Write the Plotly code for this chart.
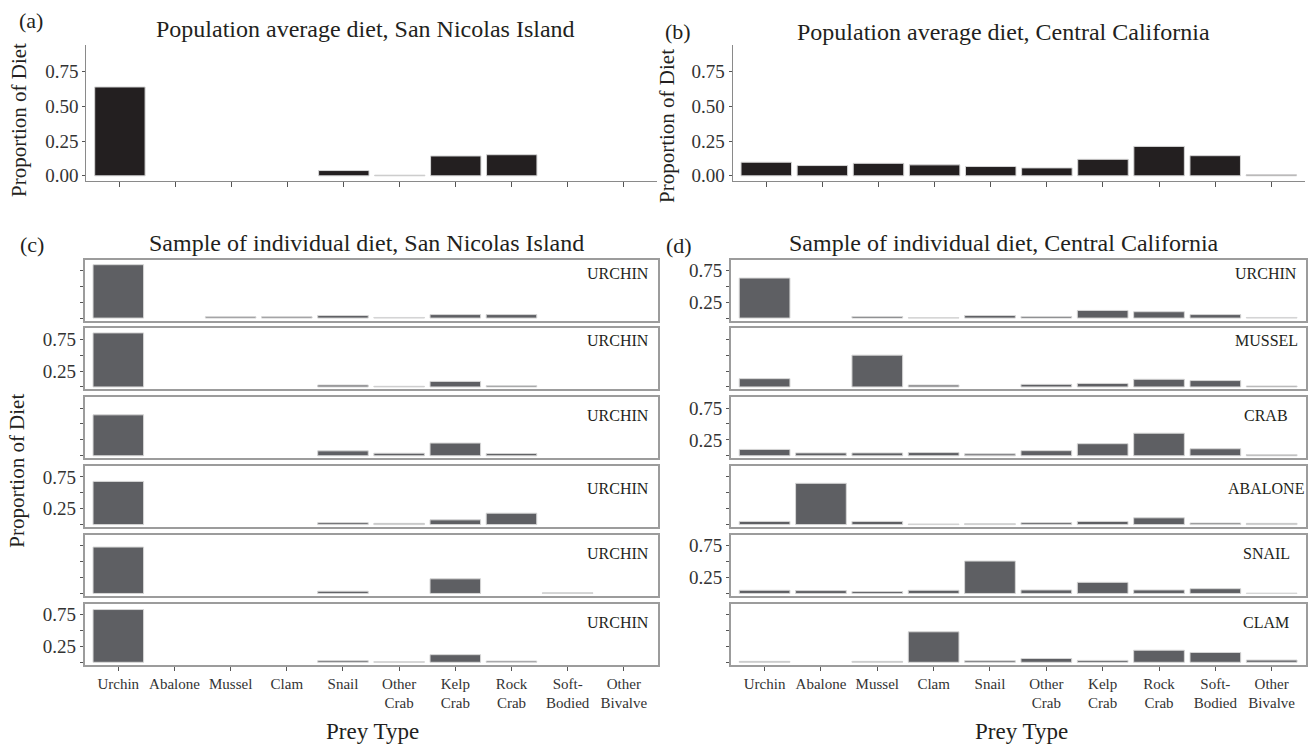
import plotly.graph_objects as go

# ---------------- data ----------------
categories = ["Urchin", "Abalone", "Mussel", "Clam", "Snail", "Other Crab",
              "Kelp Crab", "Rock Crab", "Soft-Bodied", "Other Bivalve"]
tick_labels = ["Urchin", "Abalone", "Mussel", "Clam", "Snail", "Other<br>Crab",
               "Kelp<br>Crab", "Rock<br>Crab", "Soft-<br>Bodied", "Other<br>Bivalve"]

y_tick_values = [0, 0.25, 0.5, 0.75]
y_tick_text_top = ["0.00", "0.25", "0.50", "0.75"]
y_tick_text_facet = ["", "0.25", "", "0.75"]

sni_population = [0.64, None, None, None, 0.038, 0.005, 0.143, 0.152, None, None]
cc_population = [0.098, 0.074, 0.090, 0.079, 0.067, 0.057, 0.119, 0.212, 0.145, 0.007]

sni_individual_labels = ["URCHIN", "URCHIN", "URCHIN", "URCHIN", "URCHIN", "URCHIN"]
sni_individual_1 = [0.84, None, 0.02, 0.02, 0.04, 0.01, 0.055, 0.055, None, None]
sni_individual_2 = [0.85, None, None, None, 0.03, 0.01, 0.087, 0.02, None, None]
sni_individual_3 = [0.644, None, None, None, 0.077, 0.04, 0.20, 0.035, None, None]
sni_individual_4 = [0.68, None, None, None, 0.03, 0.02, 0.075, 0.18, None, None]
sni_individual_5 = [0.73, None, None, None, 0.035, None, 0.23, None, 0.01, None]
sni_individual_6 = [0.83, None, None, None, 0.025, 0.01, 0.12, 0.02, None, None]

cc_individual_labels = ["URCHIN", "MUSSEL", "CRAB", "ABALONE", "SNAIL", "CLAM"]
cc_individual_1 = [0.63, None, 0.025, 0.005, 0.04, 0.025, 0.12, 0.10, 0.055, 0.01]
cc_individual_2 = [0.13, None, 0.50, 0.03, None, 0.04, 0.055, 0.12, 0.10, 0.015]
cc_individual_3 = [0.10, 0.045, 0.045, 0.05, 0.03, 0.08, 0.19, 0.355, 0.11, 0.02]
cc_individual_4 = [0.05, 0.65, 0.05, 0.01, 0.015, 0.03, 0.05, 0.107, 0.025, 0.02]
cc_individual_5 = [0.05, 0.045, 0.03, 0.05, 0.51, 0.055, 0.175, 0.055, 0.075, 0.005]
cc_individual_6 = [0.015, None, 0.015, 0.48, 0.025, 0.06, 0.03, 0.19, 0.155, 0.035]

sni_individuals = [sni_individual_1, sni_individual_2, sni_individual_3,
                   sni_individual_4, sni_individual_5, sni_individual_6]
cc_individuals = [cc_individual_1, cc_individual_2, cc_individual_3,
                  cc_individual_4, cc_individual_5, cc_individual_6]

# ---------------- layout helpers ----------------
W, H = 1308, 751
FONT = "Liberation Serif"
TXT = "#231f20"
TICKTXT = "#333333"


def fx(p):
    return p / W


def fy(p):
    return 1 - p / H


LEFT_TOP_X = (86.3, 657.3)
RIGHT_TOP_X = (732.6, 1305.0)
LEFT_FACET_X = (84.6, 657.5)
RIGHT_FACET_X = (730.8, 1305.5)
TOP_Y = (45.0, 182.0)
FACET_TOP0, FACET_STEP, FACET_H = 261.7, 69.4, 61.5
STRIP_Y = [0.765, 0.805, 0.695, 0.63, 0.69, 0.70]

fig = go.Figure()
layout = dict(
    width=W, height=H,
    margin=dict(l=0, r=0, t=0, b=0),
    paper_bgcolor="white", plot_bgcolor="white",
    showlegend=False,
    font=dict(family=FONT, color=TXT),
)
annotations = []


def ax_name(k):
    return ("x", "y") if k == 1 else (f"x{k}", f"y{k}")


def add_panel(k, values, xdom, ydom, color, top_panel, show_xlabels, ylabels):
    xn, yn = ax_name(k)
    fig.add_trace(go.Bar(
        x=categories, y=values, width=0.9, xaxis=xn, yaxis=yn,
        marker=dict(color=color, line=dict(color="#d6d6d6", width=1)),
        hoverinfo="skip",
    ))
    xkey = "xaxis" if k == 1 else f"xaxis{k}"
    ykey = "yaxis" if k == 1 else f"yaxis{k}"
    xa = dict(
        type="category", categoryorder="array", categoryarray=categories,
        range=[-0.6, 9.6], domain=[fx(xdom[0]), fx(xdom[1])], anchor=yn,
        showgrid=False, zeroline=False,
        tickvals=categories, ticktext=tick_labels,
        showticklabels=show_xlabels,
        tickfont=dict(family=FONT, size=15, color=TICKTXT),
    )
    ya = dict(
        domain=[fy(ydom[1]), fy(ydom[0])], anchor=xn,
        showgrid=False, zeroline=False,
        tickvals=y_tick_values, ticktext=ylabels,
        ticks="outside", ticklen=3, tickwidth=1, tickcolor="#555555",
        tickfont=dict(family=FONT, size=19, color=TICKTXT),
    )
    if top_panel:
        xa.update(showline=True, linecolor="#8a8a8a", linewidth=1.2,
                  ticks="outside", ticklen=5, tickwidth=1, tickcolor="#555555")
        ya.update(showline=True, linecolor="#8a8a8a", linewidth=1.2,
                  range=[-0.034, 0.945])
    else:
        xa.update(showline=True, mirror=True, linecolor="#9c9c9c", linewidth=1.6,
                  ticks="outside" if show_xlabels else "", ticklen=4,
                  tickwidth=1, tickcolor="#555555")
        ya.update(showline=True, mirror=True, linecolor="#9c9c9c", linewidth=1.6,
                  range=[-0.04, 0.92])
    layout[xkey] = xa
    layout[ykey] = ya


# Panels (a) and (b)
add_panel(1, sni_population, LEFT_TOP_X, TOP_Y, "#231f20", True, False, y_tick_text_top)
add_panel(2, cc_population, RIGHT_TOP_X, TOP_Y, "#231f20", True, False, y_tick_text_top)

# Panels (c) and (d)
for i in range(6):
    top = FACET_TOP0 + i * FACET_STEP
    ydom = (top, top + FACET_H)
    last = i == 5
    kc = 3 + i
    kd = 9 + i
    add_panel(kc, sni_individuals[i], LEFT_FACET_X, ydom, "#5e5f63", False, last,
              y_tick_text_facet if i % 2 == 1 else ["", "", "", ""])
    add_panel(kd, cc_individuals[i], RIGHT_FACET_X, ydom, "#5e5f63", False, last,
              y_tick_text_facet if i % 2 == 0 else ["", "", "", ""])
    for k, lab in ((kc, sni_individual_labels[i]), (kd, cc_individual_labels[i])):
        annotations.append(dict(
            text=lab, xref=f"x{k}", yref=f"y{k} domain", x=8.9, y=STRIP_Y[i],
            xanchor="center", yanchor="middle", showarrow=False,
            font=dict(family=FONT, size=16, color=TXT)))


def paper_text(text, xp, yp, size, angle=0):
    annotations.append(dict(
        text=text, xref="paper", yref="paper", x=fx(xp), y=fy(yp),
        xanchor="center", yanchor="middle", showarrow=False, textangle=angle,
        font=dict(family=FONT, size=size, color=TXT)))


paper_text("(a)", 31, 21, 22)
paper_text("(b)", 678, 32, 22)
paper_text("(c)", 32, 246, 22)
paper_text("(d)", 679, 247, 22)
paper_text("Population average diet, San Nicolas Island", 365, 29, 24)
paper_text("Population average diet, Central California", 1003, 32, 24)
paper_text("Sample of individual diet, San Nicolas Island", 366, 245, 24)
paper_text("Sample of individual diet, Central California", 1004, 245, 24)
paper_text("Proportion of Diet", 19, 121, 21, -90)
paper_text("Proportion of Diet", 667, 127, 21, -90)
paper_text("Proportion of Diet", 17.5, 475, 21, -90)
paper_text("Prey Type", 372, 737, 23)
paper_text("Prey Type", 1021, 737, 23)

layout["annotations"] = annotations
fig.update_layout(**layout)
fig.write_html(
    "out.html",
    config={"displayModeBar": False},
    post_script="document.body.style.margin='0px';document.body.style.overflow='hidden';",
)
